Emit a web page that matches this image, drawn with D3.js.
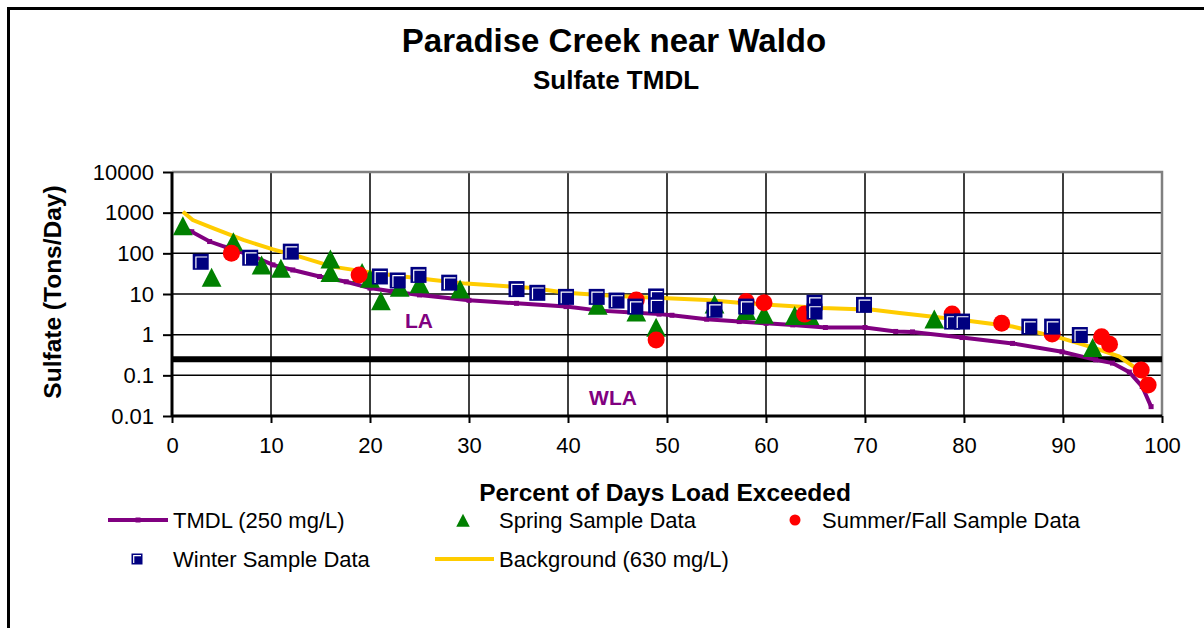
<!DOCTYPE html>
<html>
<head>
<meta charset="utf-8">
<script src="https://cdn.jsdelivr.net/npm/d3@7"></script>
<style>
  html, body { margin: 0; padding: 0; background: #fff; }
  svg { display: block; font-family: Arial, "Liberation Sans", sans-serif; }
</style>
</head>
<body>
<svg id="chart" width="1204" height="628"></svg>
<script>
// ---- Data ----
const xTicks = [0, 10, 20, 30, 40, 50, 60, 70, 80, 90, 100];
const yTicks = [0.01, 0.1, 1, 10, 100, 1000, 10000];
const yTickLabels = ["0.01", "0.1", "1", "10", "100", "1000", "10000"];
const wlaLimit = 0.25;

const tmdlX = [1, 2, 3.8, 5.5, 7.9, 10.2, 12.2, 14.9, 17.6, 20, 22.3, 25, 30, 34.8, 39.8, 43.2, 46.5, 49.2, 50.5, 54, 57.3, 60, 62.7, 66, 70, 73.1, 74.8, 79.8, 84.9, 89.9, 93.3, 95, 96.7, 98, 98.9];
const tmdlY = [420, 340, 195, 140, 91, 52, 39, 27, 20, 14, 11.5, 9.5, 7, 5.9, 4.9, 3.9, 3.5, 3.2, 3.0, 2.4, 2.1, 1.9, 1.74, 1.5, 1.5, 1.2, 1.17, 0.85, 0.61, 0.38, 0.24, 0.20, 0.12, 0.053, 0.017];

const bgX = [1.1, 2.1, 4.2, 7.2, 10.2, 12.9, 16.2, 19, 22.3, 26.4, 29.7, 33.1, 36.4, 39.8, 43.2, 46.5, 50.6, 54, 57.3, 60.7, 65.7, 70.8, 73.5, 79.8, 84.9, 89.9, 93.3, 95.7, 97.7, 98.9];
const bgY = [1050, 660, 410, 213, 125, 83, 47, 37, 29, 22, 18, 16, 14, 10.7, 9.5, 8.6, 7.8, 7.1, 6.1, 5.4, 4.5, 4.1, 3.4, 2.3, 1.58, 0.81, 0.46, 0.29, 0.13, 0.043];

const springX = [1.1, 4.0, 6.2, 9.05, 11.0, 16.0, 16.0, 19.2, 20.0, 21.1, 23.0, 25.0, 29.1, 43.0, 46.9, 48.9, 54.8, 58.0, 59.8, 62.9, 64.4, 77.0, 93.0];
const springY = [450, 24.5, 183, 49, 41, 69, 32, 32, 23, 6.5, 13.8, 17, 12.6, 5.0, 3.4, 1.45, 5.4, 3.7, 3.0, 2.8, 2.8, 2.3, 0.46];

const summerX = [6.0, 18.9, 46.9, 48.9, 58.0, 59.8, 63.9, 78.8, 83.8, 88.9, 93.9, 94.7, 97.9, 98.6];
const summerY = [100, 29.5, 7.1, 0.74, 6.5, 6.1, 3.2, 3.2, 1.9, 1.04, 0.89, 0.58, 0.135, 0.058];

const winterX = [2.9, 7.9, 12.0, 21.0, 22.8, 24.9, 28.0, 34.8, 36.9, 39.8, 42.9, 44.9, 46.8, 48.9, 48.9, 54.8, 58.0, 64.9, 64.9, 69.9, 78.8, 79.8, 86.6, 88.9, 91.7];
const winterY = [62, 78, 110, 27, 21.5, 29.5, 19, 13.2, 10.7, 8.5, 8.5, 6.9, 4.9, 8.7, 5.3, 4.1, 4.9, 6.1, 3.7, 5.4, 2.1, 2.1, 1.58, 1.58, 0.98];

// ---- Layout ----
const svg = d3.select("#chart");
const L = 172, R = 1162, T = 172, B = 416;
const x = d3.scaleLinear().domain([0, 100]).range([L, R]);
const y = d3.scaleLog().domain([0.01, 10000]).range([B, T]);

const colors = { tmdl: "#800080", spring: "#008000", summer: "#FF0000", winter: "#000080", bg: "#FFCC00" };

// outer frame
svg.append("rect").attr("x", 8.5).attr("y", 8.5).attr("width", 1210).attr("height", 640)
  .attr("fill", "none").attr("stroke", "#000").attr("stroke-width", 3);

// titles
svg.append("text").attr("x", 614).attr("y", 40).attr("dy", "0.35em").attr("text-anchor", "middle")
  .style("font-weight", "bold").style("font-size", "33px").text("Paradise Creek near Waldo");
svg.append("text").attr("x", 616).attr("y", 80).attr("dy", "0.35em").attr("text-anchor", "middle")
  .style("font-weight", "bold").style("font-size", "26px").text("Sulfate TMDL");

// gridlines
const grid = svg.append("g");
grid.selectAll("line.h").data(yTicks.slice(1, -1)).join("line")
  .attr("x1", L).attr("x2", R).attr("y1", d => y(d)).attr("y2", d => y(d))
  .attr("stroke", "#000").attr("stroke-width", 1.5);
grid.selectAll("line.v").data(xTicks.slice(1, -1)).join("line")
  .attr("x1", d => x(d)).attr("x2", d => x(d)).attr("y1", T).attr("y2", B)
  .attr("stroke", "#000").attr("stroke-width", 1.5);
// gray top/right border
svg.append("path").attr("d", `M${L},${T}H${R}V${B}`).attr("fill", "none")
  .attr("stroke", "#808080").attr("stroke-width", 2.5);

// axes
const xAxis = d3.axisBottom(x).tickValues(xTicks).tickSize(7).tickPadding(14).tickFormat(d3.format("d"));
const gx = svg.append("g").attr("transform", `translate(0,${B})`).call(xAxis);
const yAxis = d3.axisLeft(y).tickValues(yTicks).tickSize(9).tickPadding(9).tickFormat((d, i) => yTickLabels[i]);
const gy = svg.append("g").attr("transform", `translate(${L},0)`).call(yAxis);
[gx, gy].forEach(g => {
  g.select(".domain").attr("stroke", "#000").attr("stroke-width", 3);
  g.selectAll(".tick line").attr("stroke", "#000").attr("stroke-width", 2);
  g.selectAll(".tick text").style("font-size", "22px").attr("fill", "#000").style("font-family", "Arial, 'Liberation Sans', sans-serif");
});
gy.select(".domain").attr("d", `M0,${B}V${T}`);
gx.select(".domain").attr("d", `M${L},0H${R}`);

// WLA limit line
svg.append("line").attr("x1", L).attr("x2", R).attr("y1", y(wlaLimit)).attr("y2", y(wlaLimit))
  .attr("stroke", "#000").attr("stroke-width", 6);

// series lines
const line = d3.line().x(d => x(d[0])).y(d => y(d[1]));
const bgData = bgX.map((v, i) => [v, bgY[i]]);
const tmdlData = tmdlX.map((v, i) => [v, tmdlY[i]]);
svg.append("path").datum(bgData).attr("d", line).attr("fill", "none")
  .attr("stroke", colors.bg).attr("stroke-width", 4);
svg.append("path").datum(tmdlData).attr("d", line).attr("fill", "none")
  .attr("stroke", colors.tmdl).attr("stroke-width", 4);
svg.append("g").selectAll("rect").data(tmdlData).join("rect")
  .attr("x", d => x(d[0]) - 2.5).attr("y", d => y(d[1]) - 2.5).attr("width", 5).attr("height", 5)
  .attr("fill", colors.tmdl);

// marker helpers
function triangle(g, cx, cy, s) {
  g.append("path").attr("d", `M${cx},${cy - s * 0.55}L${cx + s * 0.52},${cy + s * 0.45}L${cx - s * 0.52},${cy + s * 0.45}Z`)
    .attr("fill", colors.spring);
}
function circle(g, cx, cy, r) {
  g.append("circle").attr("cx", cx).attr("cy", cy).attr("r", r).attr("fill", colors.summer);
}
function square(g, cx, cy, s) {
  g.append("rect").attr("x", cx - s / 2).attr("y", cy - s / 2).attr("width", s).attr("height", s)
    .attr("fill", colors.winter);
  const o = s * 0.2;
  g.append("path").attr("d", `M${cx - s / 2 + o},${cy + s / 2 - 1.5}V${cy - s / 2 + o}H${cx + s / 2 - 1.5}`)
    .attr("fill", "none").attr("stroke", "#fff").attr("stroke-width", 1.2);
}

const gs = svg.append("g");
springX.forEach((v, i) => triangle(gs, x(v), y(springY[i]), 19));
const gsu = svg.append("g");
summerX.forEach((v, i) => circle(gsu, x(v), y(summerY[i]), 8.5));
const gw = svg.append("g");
winterX.forEach((v, i) => square(gw, x(v), y(winterY[i]), 16));

// region labels
svg.append("text").attr("x", 419).attr("y", 321).attr("dy", "0.35em").attr("text-anchor", "middle")
  .style("font-weight", "bold").style("font-size", "21px").attr("fill", colors.tmdl).text("LA");
svg.append("text").attr("x", 613).attr("y", 398).attr("dy", "0.35em").attr("text-anchor", "middle")
  .style("font-weight", "bold").style("font-size", "21px").attr("fill", colors.tmdl).text("WLA");

// axis titles
svg.append("text").attr("x", 665).attr("y", 492).attr("dy", "0.35em").attr("text-anchor", "middle")
  .style("font-weight", "bold").style("font-size", "24.5px").text("Percent of Days Load Exceeded");
svg.append("text").attr("transform", "translate(52,292) rotate(-90)").attr("dy", "0.35em").attr("text-anchor", "middle")
  .style("font-weight", "bold").style("font-size", "24.5px").text("Sulfate (Tons/Day)");

// legend
const lg = svg.append("g").style("font-size", "22px");
lg.append("line").attr("x1", 108).attr("x2", 168).attr("y1", 520).attr("y2", 520).attr("stroke", colors.tmdl).attr("stroke-width", 4);
lg.append("rect").attr("x", 135.5).attr("y", 517.5).attr("width", 5).attr("height", 5).attr("fill", colors.tmdl);
lg.append("text").attr("x", 173).attr("y", 520).attr("dy", "0.35em").text("TMDL (250 mg/L)");
triangle(lg, 463, 521, 13);
lg.append("text").attr("x", 499).attr("y", 520).attr("dy", "0.35em").text("Spring Sample Data");
circle(lg, 795, 520, 5.5);
lg.append("text").attr("x", 822).attr("y", 520).attr("dy", "0.35em").text("Summer/Fall Sample Data");
square(lg, 137, 559, 11);
lg.append("text").attr("x", 173).attr("y", 559).attr("dy", "0.35em").text("Winter Sample Data");
lg.append("line").attr("x1", 435).attr("x2", 494).attr("y1", 559).attr("y2", 559).attr("stroke", colors.bg).attr("stroke-width", 4);
lg.append("text").attr("x", 499).attr("y", 559).attr("dy", "0.35em").text("Background (630 mg/L)");
</script>
</body>
</html>
